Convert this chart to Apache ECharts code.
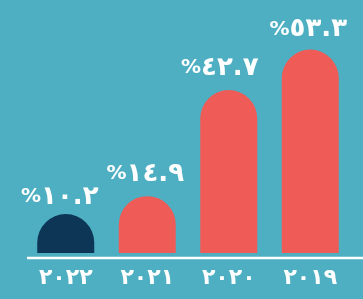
<!DOCTYPE html>
<html>
<head>
<meta charset="utf-8">
<script src="https://cdn.jsdelivr.net/npm/echarts@6/dist/echarts.min.js"></script>
<style>
  html, body { margin: 0; padding: 0; background: #4EAFC2; }
  #chart { width: 363px; height: 299px; }
</style>
</head>
<body>
<div id="chart"></div>
<script>
  // years, right to left order as in the picture
  const years = ['٢٠٢٢', '٢٠٢١', '٢٠٢٠', '٢٠١٩'];
  const shares = [10.2, 14.9, 42.7, 53.3];
  const barColors = ['#0D3556', '#EF5B56', '#EF5B56', '#EF5B56'];
  // small hand nudges of the value labels, like the original layout
  const labelNudge = [[-6, 5], [-2, 0], [-9, 0], [-2, 2]];

  const arDigits = '٠١٢٣٤٥٦٧٨٩';
  function toArabic(v) {
    return String(v).replace(/[0-9]/g, d => arDigits[d]);
  }

  const chart = echarts.init(document.getElementById('chart'));
  chart.setOption({
    backgroundColor: '#4EAFC2',
    animation: false,
    grid: {
      left: 25,
      right: 12,
      top: 24,
      bottom: 41
    },
    xAxis: {
      type: 'category',
      data: years,
      axisLine: { show: false },
      axisTick: { show: false },
      axisLabel: {
        color: '#fff',
        fontSize: 22,
        fontWeight: 'bold',
        fontFamily: 'DejaVu Sans',
        margin: 9
      }
    },
    yAxis: {
      type: 'value',
      min: -1.3,
      max: 60,
      show: false,
      splitLine: { show: false }
    },
    graphic: [{
      type: 'line',
      shape: { x1: 27, y1: 258, x2: 363, y2: 258 },
      style: { stroke: '#fff', lineWidth: 2.5 }
    }],
    series: [{
      type: 'bar',
      barWidth: 57,
      data: shares.map((v, i) => ({
        value: v,
        itemStyle: { color: barColors[i] },
        label: { offset: labelNudge[i] }
      })),
      itemStyle: {
        borderRadius: [28.5, 28.5, 0, 0]
      },
      label: {
        show: true,
        position: 'top',
        distance: 9,
        color: '#fff',
        fontWeight: 'bold',
        fontFamily: 'DejaVu Sans',
        formatter: p => '{p|%}{n|' + toArabic(p.value) + '}',
        rich: {
          p: { fontSize: 20, fontWeight: 'bold', color: '#fff', fontFamily: 'DejaVu Sans' },
          n: { fontSize: 26, fontWeight: 'bold', color: '#fff', fontFamily: 'DejaVu Sans' }
        }
      }
    }]
  });
</script>
</body>
</html>
